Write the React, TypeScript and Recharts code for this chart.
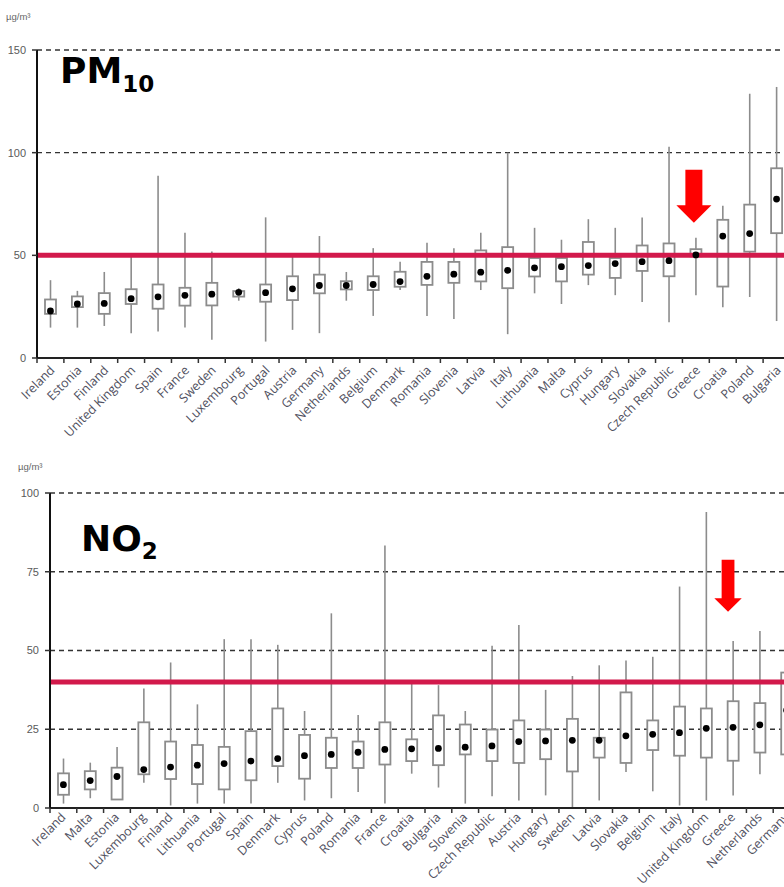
import React from 'react';
import {
  ComposedChart,
  Bar,
  Scatter,
  XAxis,
  YAxis,
  CartesianGrid,
  ReferenceLine,
  ReferenceDot
} from 'recharts';

// PM10 — countries and box statistics (µg/m³)
const pm10Countries = [
  'Ireland', 'Estonia', 'Finland', 'United Kingdom', 'Spain', 'France', 'Sweden',
  'Luxembourg', 'Portugal', 'Austria', 'Germany', 'Netherlands', 'Belgium', 'Denmark',
  'Romania', 'Slovenia', 'Latvia', 'Italy', 'Lithuania', 'Malta', 'Cyprus', 'Hungary',
  'Slovakia', 'Czech Republic', 'Greece', 'Croatia', 'Poland', 'Bulgaria'
];
const pm10Min = [14.8, 14.8, 15.6, 12.1, 12.9, 14.8, 8.9, 27.9, 8, 13.7, 12.1, 27.9, 20.5, 33.1, 20.5, 19, 33.1, 11.6, 31.5, 26.3, 35.5, 30.6, 27.3, 17.4, 30.5, 24.7, 29.7, 18];
const pm10Q1 = [21.5, 24.8, 21.5, 26.3, 24, 25.5, 25.6, 29.9, 27.4, 28.2, 31.5, 33.4, 33.1, 34.7, 35.6, 36.6, 37.3, 34, 39.7, 37.3, 40.6, 39, 42.4, 39.8, 49.5, 34.8, 51.8, 60.8];
const pm10Mean = [22.9, 26.3, 26.6, 28.9, 29.8, 30.5, 31.1, 32, 31.8, 33.7, 35.3, 35.3, 35.8, 37.2, 39.8, 40.8, 41.8, 42.7, 43.9, 44.5, 45, 46, 46.9, 47.4, 50.2, 59.4, 60.6, 77.4];
const pm10Q3 = [28.5, 30, 31.6, 33.5, 35.8, 34.2, 36.6, 32.6, 35.8, 39.8, 40.6, 37.4, 39.8, 42, 46.8, 46.8, 52.4, 54, 48.7, 48.7, 56.5, 48.7, 54.8, 55.8, 53, 67.3, 74.7, 92.4];
const pm10Max = [37.9, 32.7, 41.9, 49.5, 88.8, 61, 51.9, 34, 68.5, 49.5, 59.4, 41.9, 53.5, 46.9, 56.1, 53.5, 61, 100, 63.4, 57.6, 67.6, 63.4, 68.4, 102.9, 58.6, 74.2, 128.7, 132];
const pm10Ticks = [0, 50, 100, 150];
const pm10Limit = 50;

// NO2 — countries and box statistics (µg/m³)
const no2Countries = [
  'Ireland', 'Malta', 'Estonia', 'Luxembourg', 'Finland', 'Lithuania', 'Portugal',
  'Spain', 'Denmark', 'Cyprus', 'Poland', 'Romania', 'France', 'Croatia', 'Bulgaria',
  'Slovenia', 'Czech Republic', 'Austria', 'Hungary', 'Sweden', 'Latvia', 'Slovakia',
  'Belgium', 'Italy', 'United Kingdom', 'Greece', 'Netherlands', 'Germany'
];
const no2Min = [1.4, 3.1, 2.7, 8, 0.8, 1.4, 1.4, 1.4, 8, 2.4, 3.1, 5.1, 1.4, 10.9, 6.5, 1.4, 3.7, 2.4, 4, 0, 2.4, 11.4, 5.3, 0.8, 2.4, 4, 10.7, 12];
const no2Q1 = [4.2, 5.9, 2.7, 10.7, 9.2, 7.6, 5.9, 8.8, 13.3, 9.3, 12.7, 12.7, 13.8, 14.9, 13.6, 17, 14.9, 14.3, 15.5, 11.6, 16, 14.3, 18.4, 16.6, 16, 15, 17.6, 17];
const no2Mean = [7.4, 8.7, 10, 12.2, 13, 13.6, 14.1, 14.9, 15.7, 16.6, 17, 17.7, 18.6, 18.8, 18.9, 19.3, 19.7, 21.1, 21.3, 21.5, 21.5, 22.9, 23.4, 23.9, 25.3, 25.6, 26.4, 31];
const no2Q3 = [11, 11.7, 12.8, 27.2, 21.1, 20, 19.4, 24.4, 31.6, 23.2, 22.3, 21.1, 27.2, 21.8, 29.4, 26.5, 24.9, 27.8, 24.9, 28.3, 22.3, 36.7, 27.8, 32.2, 31.6, 33.9, 33.3, 43];
const no2Max = [15.7, 14.4, 19.4, 37.9, 46.2, 32.9, 53.6, 53.6, 51.8, 30.8, 61.8, 29.5, 83.3, 39.5, 39, 30.8, 51.5, 58.1, 37.5, 41.9, 45.3, 46.8, 48, 70.3, 94, 53, 56.2, 65];
const no2Ticks = [0, 25, 50, 75, 100];
const no2Limit = 40;

const highlighted = 'Greece';

const buildRows = (names: string[], min: number[], q1: number[], mean: number[], q3: number[], max: number[]) =>
  names.map((name, i) => ({
    name,
    range: [min[i], max[i]],
    min: min[i],
    max: max[i],
    q1: q1[i],
    q3: q3[i],
    mean: mean[i]
  }));

const pm10Data = buildRows(pm10Countries, pm10Min, pm10Q1, pm10Mean, pm10Q3, pm10Max);
const no2Data = buildRows(no2Countries, no2Min, no2Q1, no2Mean, no2Q3, no2Max);

const GREY = '#8c8c8c';
const LIMIT_RED = '#d2194b';
const ARROW_RED = '#ff0000';
const TEXT = '#505060';

// whisker + box drawn inside the [min, max] bar the library positions
function BoxShape(props: any) {
  const { x, y, width, height, payload } = props;
  if (x == null || y == null) return null;
  const top = Math.min(y, y + height);
  const bottom = Math.max(y, y + height);
  const span = payload.max - payload.min || 1;
  const k = (bottom - top) / span;
  const yOf = (v: number) => bottom - (v - payload.min) * k;
  const cx = x + width / 2;
  const boxTop = yOf(payload.q3);
  const boxBottom = yOf(payload.q1);
  return (
    <g>
      <line x1={cx} x2={cx} y1={top} y2={bottom} stroke={GREY} strokeWidth={1.6} />
      <rect
        x={x}
        y={boxTop}
        width={width}
        height={Math.max(boxBottom - boxTop, 0.5)}
        fill="#fff"
        stroke={GREY}
        strokeWidth={1.8}
      />
    </g>
  );
}

const MeanDot = (props: any) => {
  const { cx, cy } = props;
  if (cx == null || cy == null) return null;
  return <circle cx={cx} cy={cy} r={3.4} fill="#000" />;
};

const makeTick = (dx: number, dy: number) => (props: any) => {
  const { x, y, payload } = props;
  const half = payload && payload.offset ? payload.offset : 13.4;
  const tx = x + dx;
  const ty = y + dy;
  return (
    <g>
      <line x1={x - half} x2={x - half} y1={y} y2={y + 5} stroke="#333" strokeWidth={1.5} />
      <text
        x={tx}
        y={ty}
        transform={`rotate(-45, ${tx}, ${ty})`}
        textAnchor="end"
        fontSize={12.5}
        fontFamily="'Open Sans', sans-serif"
        fill={TEXT}
      >
        {payload.value}
      </text>
    </g>
  );
};

const makeArrow = (shift: number, halfShaft: number, halfHead: number, headLen: number, total: number) =>
  (props: any) => {
    const { cx, cy } = props;
    if (cx == null || cy == null) return null;
    const c = cx + shift;
    const pts = [
      [c, cy],
      [c - halfHead, cy - headLen],
      [c - halfShaft, cy - headLen],
      [c - halfShaft, cy - total],
      [c + halfShaft, cy - total],
      [c + halfShaft, cy - headLen],
      [c + halfHead, cy - headLen]
    ].map(p => p.join(',')).join(' ');
    return <polygon points={pts} fill={ARROW_RED} />;
  };

interface BoxChartProps {
  data: any[];
  ticks: number[];
  limit: number;
  arrowTip: number;
  arrowShape: (p: any) => any;
  width: number;
  height: number;
  top: number;
  yWidth: number;
  xHeight: number;
  tickDx: number;
  tickDy: number;
}

function BoxChart({ data, ticks, limit, arrowTip, arrowShape, width, height, top, yWidth, xHeight, tickDx, tickDy }: BoxChartProps) {
  return (
    <ComposedChart width={width} height={height} data={data} margin={{ top, right: 0, bottom: 0, left: 0 }}>
      <CartesianGrid horizontal vertical={false} stroke="#333" strokeWidth={1.4} strokeDasharray="5 4" />
      <XAxis
        dataKey="name"
        interval={0}
        height={xHeight}
        tickSize={0}
        tickMargin={0}
        tickLine={false}
        axisLine={{ stroke: '#222', strokeWidth: 2 }}
        tick={makeTick(tickDx, tickDy)}
      />
      <YAxis
        width={yWidth}
        domain={[ticks[0], ticks[ticks.length - 1]]}
        ticks={ticks}
        tickSize={5}
        tickMargin={6}
        tickLine={{ stroke: '#333', strokeWidth: 1.5 }}
        axisLine={{ stroke: '#111', strokeWidth: 2 }}
        tick={{ fontSize: 11, fill: '#5a5a5a', fontFamily: "'Liberation Sans', Arial, sans-serif" }}
      />
      <Bar dataKey="range" barSize={11} shape={BoxShape} isAnimationActive={false} />
      <ReferenceLine y={limit} stroke={LIMIT_RED} strokeWidth={5} />
      <Scatter dataKey="mean" shape={MeanDot} isAnimationActive={false} />
      <ReferenceDot x={highlighted} y={arrowTip} shape={arrowShape} />
    </ComposedChart>
  );
}

const titleStyle = { fontFamily: "'DejaVu Sans', sans-serif", fontWeight: 700 as const, fill: '#000' };

export default function App() {
  return (
    <div style={{ position: 'absolute', left: 0, top: 0, width: 784, height: 887, overflow: 'hidden', background: '#fff' }}>
      <div style={{ position: 'absolute', left: 0, top: 0 }}>
        <BoxChart
          data={pm10Data}
          ticks={pm10Ticks}
          limit={pm10Limit}
          arrowTip={65.9}
          arrowShape={makeArrow(-2, 8.5, 17.5, 17.5, 53)}
          width={790}
          height={440}
          top={50}
          yWidth={37}
          xHeight={82}
          tickDx={5}
          tickDy={13}
        />
      </div>
      <div style={{ position: 'absolute', left: 0, top: 460 }}>
        <BoxChart
          data={no2Data}
          ticks={no2Ticks}
          limit={no2Limit}
          arrowTip={62.3}
          arrowShape={makeArrow(-5, 6.4, 13.7, 13.4, 52)}
          width={800}
          height={428}
          top={33}
          yWidth={50}
          xHeight={80}
          tickDx={3}
          tickDy={10}
        />
      </div>
      <svg width={784} height={887} style={{ position: 'absolute', left: 0, top: 0, pointerEvents: 'none' }}>
        <text x={6} y={20} fontSize={9.5} fill="#666" fontFamily="'Liberation Sans', Arial, sans-serif">µg/m³</text>
        <text x={60} y={83} fontSize={36} {...titleStyle}>
          PM<tspan fontSize={23} dy={9}>10</tspan>
        </text>
        <text x={18} y={470} fontSize={9.5} fill="#666" fontFamily="'Liberation Sans', Arial, sans-serif">µg/m³</text>
        <text x={81} y={551} fontSize={36} {...titleStyle}>
          NO<tspan fontSize={23} dy={8}>2</tspan>
        </text>
      </svg>
    </div>
  );
}
